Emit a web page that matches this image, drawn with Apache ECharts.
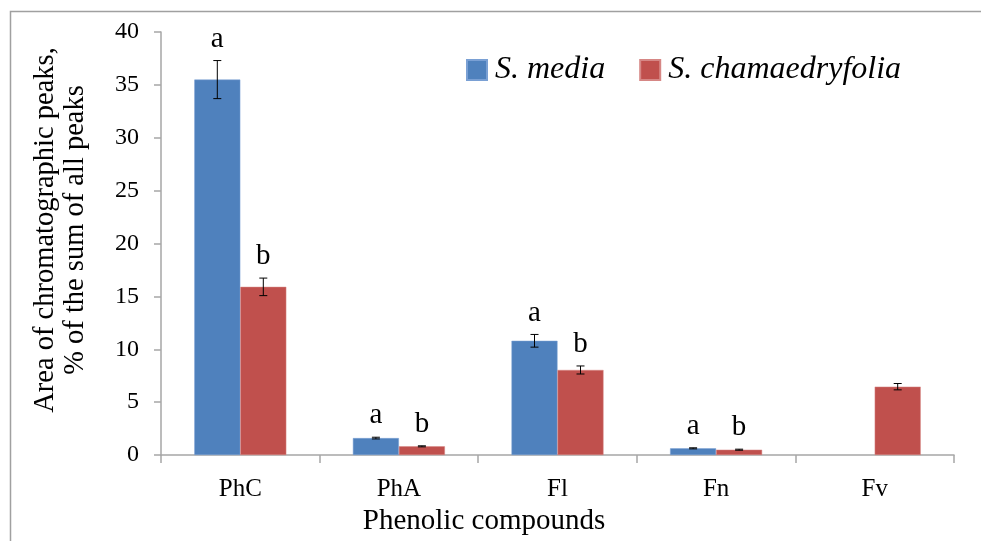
<!DOCTYPE html>
<html>
<head>
<meta charset="utf-8">
<script src="https://cdn.jsdelivr.net/npm/echarts@6/dist/echarts.min.js"></script>
<style>
html,body{margin:0;padding:0;background:#fff;}
#chart{width:981px;height:541px;}
</style>
</head>
<body>
<div id="chart"></div>
<script>
const categories = ['PhC', 'PhA', 'Fl', 'Fn', 'Fv'];
const seriesNames = ['S. media', 'S. chamaedryfolia'];
const mediaValues = [35.5, 1.6, 10.8, 0.63, null];
const mediaErrors = [1.8, 0.08, 0.6, 0.05, null];
const mediaLetters = ['a', 'a', 'a', 'a', ''];
const chamValues = [15.9, 0.82, 8.04, 0.5, 6.46];
const chamErrors = [0.83, 0.05, 0.38, 0.05, 0.3];
const chamLetters = ['b', 'b', 'b', 'b', ''];
const yTicks = [0, 5, 10, 15, 20, 25, 30, 35, 40];

const FONT = '"Liberation Serif", "DejaVu Serif", serif';
const BAR_W = 46;
const AXIS_COLOR = '#a6a6a6';

function errSeries(values, errors, letters, side) {
  return {
    type: 'custom',
    z: 10,
    silent: true,
    data: values.map((v, i) => [i, v, errors[i]]),
    renderItem: function (params, api) {
      const v = api.value(1);
      if (v == null || isNaN(v)) return null;
      const e = api.value(2);
      const idx = api.value(0);
      const letter = letters[idx];
      const c = api.coord([idx, v]);
      const x = c[0] + side * BAR_W / 2;
      const top = api.coord([idx, v + e])[1];
      const bot = api.coord([idx, v - e])[1];
      const cap = 4;
      const st = {stroke: '#000', lineWidth: 1};
      const children = [
        {type: 'line', shape: {x1: x, y1: top, x2: x, y2: bot}, style: st},
        {type: 'line', shape: {x1: x - cap, y1: top, x2: x + cap, y2: top}, style: st},
        {type: 'line', shape: {x1: x - cap, y1: bot, x2: x + cap, y2: bot}, style: st}
      ];
      if (letter) {
        children.push({
          type: 'text',
          style: {
            text: letter, x: x, y: top - 7,
            align: 'center', verticalAlign: 'bottom',
            fontFamily: FONT, fontSize: 29, fill: '#000'
          }
        });
      }
      return {type: 'group', children: children};
    }
  };
}

const chart = echarts.init(document.getElementById('chart'), null, {renderer: 'canvas'});
chart.setOption({
  backgroundColor: '#fff',
  animation: false,
  textStyle: {fontFamily: FONT},
  graphic: [
    {type: 'rect', shape: {x: 10.5, y: 11.5, width: 1000, height: 600},
     style: {fill: 'none', stroke: '#a0a0a0', lineWidth: 1.5}, z: -1},
    {type: 'text', x: 61, y: 230, rotation: Math.PI / 2,
     style: {text: 'Area of chromatographic peaks,\n% of the sum of all peaks',
             align: 'center', verticalAlign: 'middle', lineHeight: 30,
             fontFamily: FONT, fontSize: 28.5, fill: '#000'}},
    {type: 'text', x: 484, y: 521,
     style: {text: 'Phenolic compounds', align: 'center', verticalAlign: 'middle',
             fontFamily: FONT, fontSize: 29, fill: '#000'}}
  ],
  legend: {
    data: seriesNames,
    top: 49,
    left: 461,
    icon: 'rect',
    itemWidth: 20,
    itemHeight: 20,
    itemGap: 34,
    textStyle: {fontFamily: FONT, fontStyle: 'italic', fontSize: 32, color: '#000', padding: [0, 0, 0, 3]}
  },
  grid: {left: 161, right: 27, top: 32, bottom: 86, containLabel: false},
  xAxis: {
    type: 'category',
    data: categories,
    axisLine: {lineStyle: {color: AXIS_COLOR, width: 1.5}},
    axisTick: {show: true, length: 8, lineStyle: {color: AXIS_COLOR, width: 1.5}},
    axisLabel: {fontFamily: FONT, fontSize: 25, color: '#000', margin: 22},
    splitLine: {show: false}
  },
  yAxis: {
    type: 'value',
    min: 0, max: 40, interval: 5,
    axisLine: {show: true, lineStyle: {color: AXIS_COLOR, width: 1.5}},
    axisTick: {show: true, inside: false, length: 7, lineStyle: {color: AXIS_COLOR, width: 1.5}},
    axisLabel: {fontFamily: FONT, fontSize: 24, color: '#000', margin: 22,
                formatter: v => yTicks.includes(v) ? String(v) : ''},
    splitLine: {show: false}
  },
  series: [
    {name: seriesNames[0], type: 'bar', data: mediaValues, barWidth: BAR_W, barGap: '0%',
     itemStyle: {color: '#4f81bd', borderColor: '#7aa0d4', borderWidth: 0.5}},
    {name: seriesNames[1], type: 'bar', data: chamValues, barWidth: BAR_W, barGap: '0%',
     itemStyle: {color: '#c0504d', borderColor: '#d68785', borderWidth: 0.5}},
    errSeries(mediaValues, mediaErrors, mediaLetters, -1),
    errSeries(chamValues, chamErrors, chamLetters, 1)
  ]
});
</script>
</body>
</html>
